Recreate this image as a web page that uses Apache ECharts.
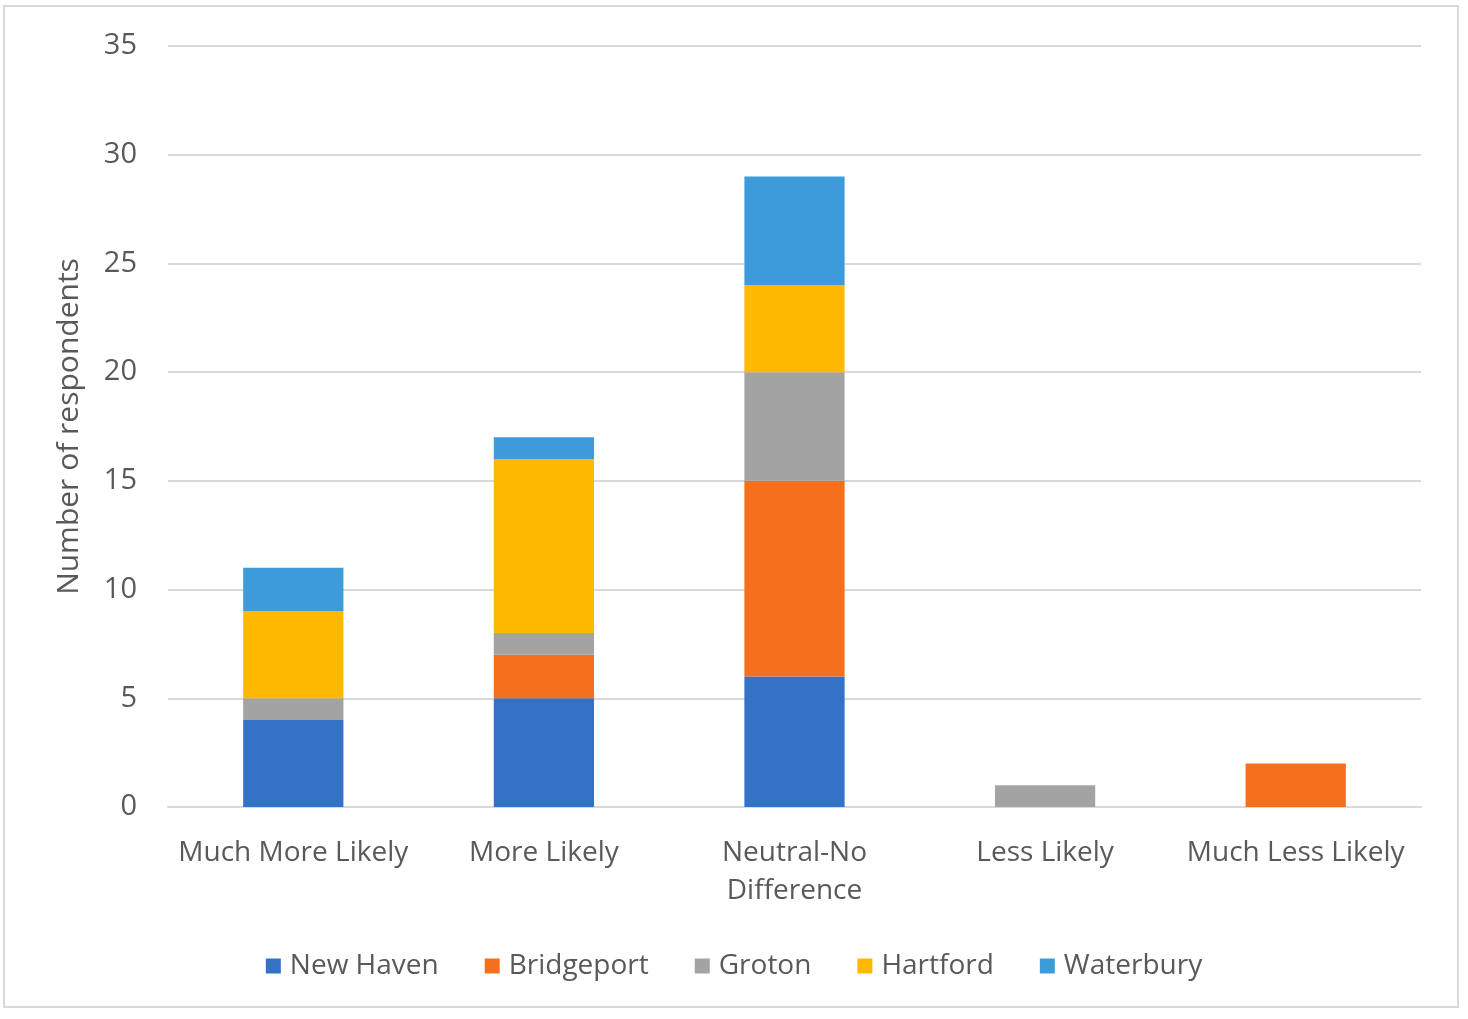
<!DOCTYPE html>
<html><head><meta charset="utf-8">
<script src="https://cdn.jsdelivr.net/npm/echarts@6/dist/echarts.min.js"></script>
<style>
html,body{margin:0;padding:0;background:#fff;}
#frame{position:absolute;left:3px;top:5px;width:1456px;height:1003px;border:2px solid #d9d9d9;box-sizing:border-box;}
#c{position:absolute;left:0;top:0;width:1468px;height:1019px;}
</style></head>
<body>
<div id="frame"></div>
<div id="c"></div>
<script>
const categories = ['Much More Likely', 'More Likely', 'Neutral-No\nDifference', 'Less Likely', 'Much Less Likely'];
const seriesNames = ['New Haven', 'Bridgeport', 'Groton', 'Hartford', 'Waterbury'];
const newHaven   = [4, 5, 6, 0, 0];
const bridgeport = [0, 2, 9, 0, 2];
const groton     = [1, 1, 5, 1, 0];
const hartford   = [4, 8, 4, 0, 0];
const waterbury  = [2, 1, 5, 0, 0];
const yTicks = [0, 5, 10, 15, 20, 25, 30, 35];
const colors = ['#3372C6', '#F5701D', '#A3A3A3', '#FFB900', '#3D9BDA'];

const allData = [newHaven, bridgeport, groton, hartford, waterbury];
const font = 'Open Sans';
const chart = echarts.init(document.getElementById('c'), null, {renderer: 'canvas'});
chart.setOption({
  animation: false,
  color: colors,
  grid: {left: 168, right: 47, top: 46, bottom: 212, containLabel: false},
  legend: {
    bottom: 34, left: 'center',
    itemWidth: 15, itemHeight: 15, itemGap: 46,
    icon: 'rect',
    textStyle: {fontFamily: font, fontSize: 28, color: '#595959', padding: [0,0,0,4]},
    data: seriesNames
  },
  xAxis: {
    type: 'category', data: categories,
    axisLine: {lineStyle: {color: '#d9d9d9', width: 2}},
    axisTick: {show: false},
    axisLabel: {fontFamily: font, fontSize: 28, color: '#595959', margin: 27, lineHeight: 38, interval: 0}
  },
  yAxis: {
    type: 'value', min: yTicks[0], max: yTicks[yTicks.length - 1], interval: 5,
    name: 'Number of respondents', nameLocation: 'middle', nameGap: 84,
    nameTextStyle: {fontFamily: font, fontSize: 30, color: '#595959'},
    axisLine: {show: false}, axisTick: {show: false},
    axisLabel: {fontFamily: font, fontSize: 29, color: '#595959', margin: 31},
    splitLine: {lineStyle: {color: '#d9d9d9', width: 2}}
  },
  series: seriesNames.map((n, i) => ({
    name: n, type: 'bar', stack: 'total', barWidth: '40%',
    data: allData[i].map(v => v === 0 ? null : v)
  }))
});
</script>
</body></html>
